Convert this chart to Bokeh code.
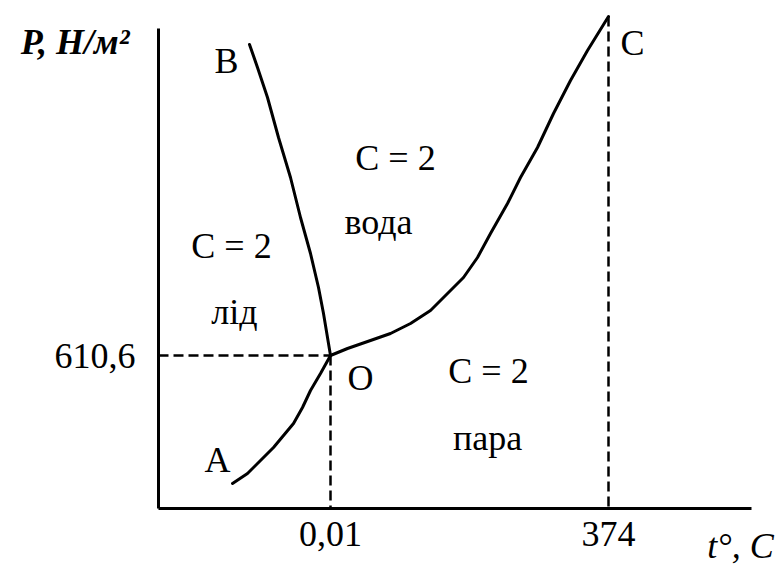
from bokeh.plotting import figure
from bokeh.models import FixedTicker, Range1d, LinearAxis
from bokeh.core.properties import value
from bokeh.embed import file_html
from bokeh.resources import INLINE

# Schematic phase diagram of water (diagram units)
# triple point O
triple_t = [172]
triple_p = [153]

# O-A : ice / vapour (sublimation) curve
sub_t = [172, 162, 152, 144, 135, 125, 115, 102, 89, 74]
sub_p = [153, 135, 118, 101, 85, 73, 61, 48, 35, 25]

# O-B : ice / water (melting) curve
melt_t = [172, 169, 165, 160, 152, 142, 132, 120, 109, 99, 91]
melt_p = [153, 171, 195, 221, 255, 291, 331, 371, 411, 441, 464]

# O-C : water / vapour (boiling) curve, ends at critical point C
boil_t = [172, 189, 212, 232, 252, 272, 289, 305, 319, 332, 349, 362, 379,
          395, 412, 429, 450]
boil_p = [153, 160, 168, 175, 185, 198, 215, 231, 251, 275, 305, 331, 361,
          395, 428, 458, 492]

# tick positions and labels
t_ticks = [172, 450]
t_tick_labels = ["0,01", "374"]
p_ticks = [153]
p_tick_labels = ["610,6"]

# axis titles (placed as single tick labels on extra axes)
t_title_pos = [582]
t_title = ["t°, C"]
p_title_pos = [467]
p_title = ["P, Н/м²"]

# point names
point_names = ["A", "B", "C", "O"]
point_t = [59, 68, 474, 202]
point_p = [49, 448, 466, 131]

# region labels
region_text = ["C = 2", "вода", "C = 2", "лід", "C = 2", "пара"]
region_t = [237, 220, 73, 76, 330, 329]
region_p = [351, 287, 263, 197, 138, 71]

FONT = "Liberation Serif"

p = figure(width=780, height=568, output_backend="svg", toolbar_location=None,
           x_range=Range1d(0, 622), y_range=Range1d(0, 508),
           min_border_left=158, min_border_right=0, min_border_top=0,
           min_border_bottom=60)
p.outline_line_color = None
p.grid.visible = False
p.background_fill_color = "white"
p.border_fill_color = "white"

for ax in (p.xaxis[0], p.yaxis[0]):
    ax.axis_line_width = 3
    ax.axis_line_color = "black"
    ax.major_tick_line_color = None
    ax.minor_tick_line_color = None
    ax.major_label_text_font = FONT
    ax.major_label_text_font_size = "36px"
    ax.major_label_text_color = "black"

p.xaxis[0].ticker = FixedTicker(ticks=t_ticks)
p.xaxis[0].major_label_overrides = dict(zip(t_ticks, t_tick_labels))
p.xaxis[0].bounds = (0, 593)
p.xaxis[0].major_label_standoff = 7

p.yaxis[0].ticker = FixedTicker(ticks=p_ticks)
p.yaxis[0].major_label_overrides = dict(zip(p_ticks, p_tick_labels))
p.yaxis[0].bounds = (0, 480)
p.yaxis[0].major_label_standoff = 17


def title_axis(ticks, labels, standoff, style, size):
    ax = LinearAxis(ticker=FixedTicker(ticks=ticks),
                    major_label_overrides=dict(zip(ticks, labels)),
                    axis_line_color=None, major_tick_line_color=None,
                    minor_tick_line_color=None, major_tick_out=0,
                    major_tick_in=0, minor_tick_out=0, minor_tick_in=0,
                    major_label_standoff=standoff,
                    major_label_text_font=FONT,
                    major_label_text_font_size=size,
                    major_label_text_font_style=style,
                    major_label_text_color="black")
    return ax


p.add_layout(title_axis(t_title_pos, t_title, -23, "italic", "36px"), "below")
p.add_layout(title_axis(p_title_pos, p_title, -78, "bold italic", "36px"), "left")

# dashed guide lines
p.line([0, triple_t[0]], [triple_p[0], triple_p[0]], line_color="black",
       line_width=2.5, line_dash="10 5")
p.line([triple_t[0], triple_t[0]], [triple_p[0], 0], line_color="black",
       line_width=2.5, line_dash="10 5")
p.line([boil_t[-1], boil_t[-1]], [boil_p[-1], 0], line_color="black",
       line_width=2.5, line_dash="10 5")

# phase boundary curves
for xs, ys in ((sub_t, sub_p), (melt_t, melt_p), (boil_t, boil_p)):
    p.line(xs, ys, line_color="black", line_width=3, line_join="round",
           line_cap="round")

p.text(x=point_t, y=point_p, text=point_names, text_font=value(FONT),
       text_font_size="36px", text_align="center", text_baseline="middle",
       text_color="black")

p.text(x=region_t, y=region_p, text=region_text, text_font=value(FONT),
       text_font_size="36px", text_align="center", text_baseline="middle",
       text_color="black")

open("out.html", "w").write(file_html(p, INLINE))
